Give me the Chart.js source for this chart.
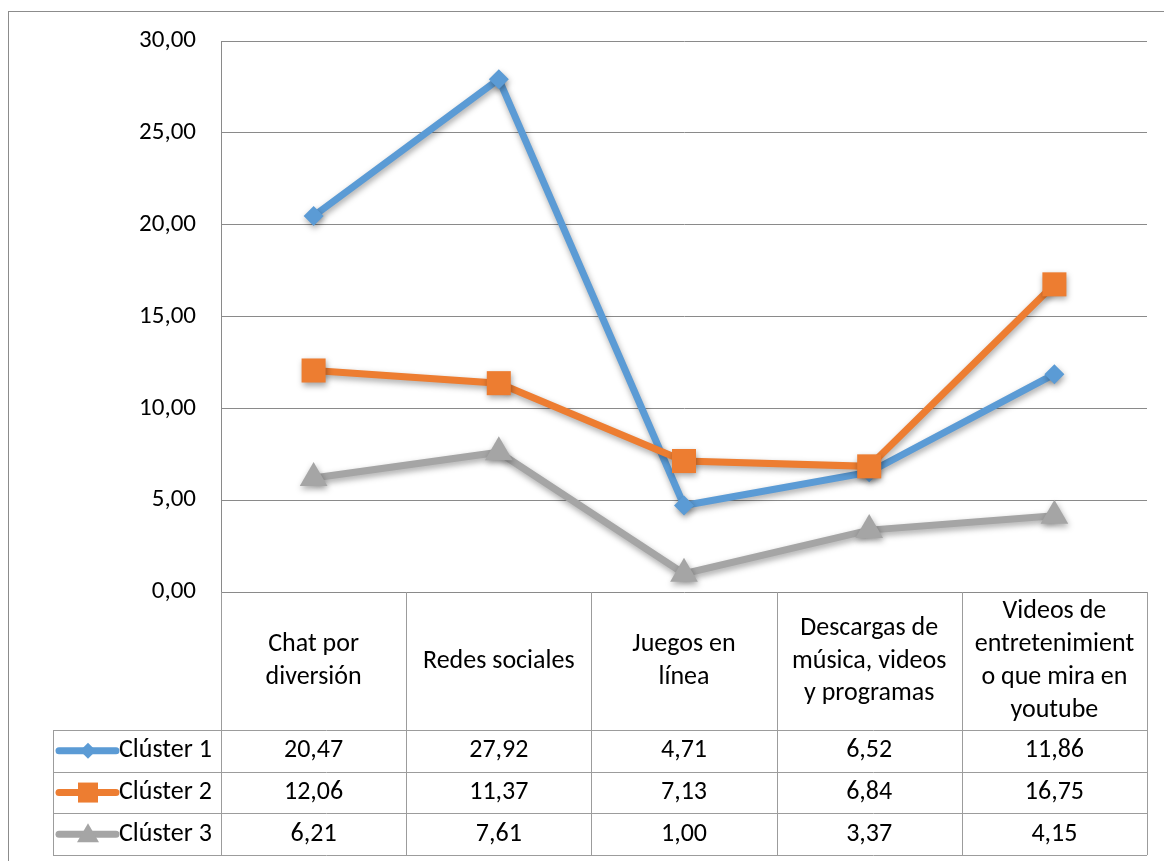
<!DOCTYPE html>
<html>
<head>
<meta charset="utf-8">
<script src="https://cdn.jsdelivr.net/npm/chart.js@4.4.1/dist/chart.umd.min.js"></script>
<style>
  html, body { margin: 0; padding: 0; background: #fff; }
  #wrap { position: relative; width: 1164px; height: 861px; }
  #frame { position: absolute; left: 8px; top: 11px; width: 1200px; height: 900px;
           border-top: 1px solid #8c8c8c; border-left: 1px solid #8c8c8c; box-sizing: border-box; }
  canvas { position: absolute; left: 0; top: 0; }
</style>
</head>
<body>
<div id="wrap">
  <div id="frame"></div>
  <canvas id="c" width="1164" height="861"></canvas>
</div>
<script>
const categories = [
  ["Chat por", "diversión"],
  ["Redes sociales"],
  ["Juegos en", "línea"],
  ["Descargas de", "música, videos", "y programas"],
  ["Videos de", "entretenimient", "o que mira en", "youtube"]
];
const seriesNames = ["Clúster 1", "Clúster 2", "Clúster 3"];
const cluster1 = [20.47, 27.92, 4.71, 6.52, 11.86];
const cluster2 = [12.06, 11.37, 7.13, 6.84, 16.75];
const cluster3 = [6.21, 7.61, 1.00, 3.37, 4.15];
const yTicks = [0, 5, 10, 15, 20, 25, 30];

const FONT = "Carlito, Calibri, Lato, 'Open Sans', sans-serif";
const FSIZE = 25;
const TSIZE = 26;
const GRID = "#8a8a8a";
const TABLE = "#9c9c9c";
const colors = ["#5B9BD5", "#ED7D31", "#A5A5A5"];
const pointStyles = ["rectRot", "rect", "triangle"];
const pointRadii = [10, 17, 16];
const fmt = v => v.toFixed(2).replace(".", ",");

const shadowPlugin = {
  id: "shadow",
  beforeDatasetDraw(chart) {
    const ctx = chart.ctx;
    ctx.save();
    ctx.shadowColor = "rgba(0,0,0,0.35)";
    ctx.shadowBlur = 6;
    ctx.shadowOffsetX = 1;
    ctx.shadowOffsetY = 3;
  },
  afterDatasetDraw(chart) { chart.ctx.restore(); }
};

const tablePlugin = {
  id: "dataTable",
  afterDraw(chart) {
    const ctx = chart.ctx;
    const area = chart.chartArea;
    const x = chart.scales.x;
    const n = categories.length;
    const step = (area.right - area.left) / n;
    const headerBottom = 730;
    const rowH = 41.7;
    const legendLeft = 53;
    const tableBottom = headerBottom + rowH * seriesNames.length;
    ctx.save();
    ctx.strokeStyle = TABLE;
    ctx.lineWidth = 1;
    for (let i = 0; i <= n; i++) {
      const px = Math.round(area.left + i * step) + 0.5;
      ctx.beginPath(); ctx.moveTo(px, area.bottom); ctx.lineTo(px, tableBottom); ctx.stroke();
    }
    ctx.beginPath(); ctx.moveTo(legendLeft + 0.5, headerBottom); ctx.lineTo(legendLeft + 0.5, tableBottom); ctx.stroke();
    for (let r = 0; r <= seriesNames.length; r++) {
      const py = Math.round(headerBottom + r * rowH) + 0.5;
      ctx.beginPath(); ctx.moveTo(legendLeft, py); ctx.lineTo(area.right, py); ctx.stroke();
    }
    ctx.fillStyle = "#000";
    ctx.font = TSIZE + "px " + FONT;
    ctx.textAlign = "center";
    ctx.textBaseline = "middle";
    const lineH = 32.8;
    const headerMid = (area.bottom + headerBottom) / 2;
    categories.forEach((lines, i) => {
      const cx = x.getPixelForValue(i);
      const start = headerMid - (lines.length - 1) * lineH / 2;
      lines.forEach((t, k) => ctx.fillText(t, cx, start + k * lineH));
    });
    const data = [cluster1, cluster2, cluster3];
    data.forEach((vals, r) => {
      const cy = headerBottom + r * rowH + rowH / 2;
      vals.forEach((v, i) => {
        ctx.fillStyle = "#000";
        ctx.textAlign = "center";
        ctx.fillText(fmt(v), x.getPixelForValue(i), cy);
      });
      ctx.strokeStyle = colors[r];
      ctx.lineWidth = 7;
      ctx.lineCap = "round";
      ctx.beginPath(); ctx.moveTo(59, cy); ctx.lineTo(116, cy); ctx.stroke();
      ctx.fillStyle = colors[r];
      const cxm = 88;
      ctx.beginPath();
      if (r === 0) {
        ctx.moveTo(cxm - 8, cy); ctx.lineTo(cxm, cy - 8); ctx.lineTo(cxm + 8, cy); ctx.lineTo(cxm, cy + 8);
      } else if (r === 1) {
        ctx.rect(cxm - 10, cy - 10, 20, 20);
      } else {
        ctx.moveTo(cxm, cy - 11); ctx.lineTo(cxm + 11, cy + 8); ctx.lineTo(cxm - 11, cy + 8);
      }
      ctx.closePath(); ctx.fill();
      ctx.fillStyle = "#000";
      ctx.textAlign = "left";
      ctx.fillText(seriesNames[r], 119, cy);
    });
    ctx.restore();
  }
};

const datasets = [cluster1, cluster2, cluster3].map((d, i) => ({
  label: seriesNames[i],
  data: d,
  borderColor: colors[i],
  backgroundColor: colors[i],
  borderWidth: 7,
  pointStyle: pointStyles[i],
  pointRadius: pointRadii[i],
  pointBorderWidth: 0,
  pointBackgroundColor: colors[i],
  tension: 0,
  order: 2 - i
}));

new Chart(document.getElementById("c"), {
  type: "line",
  data: { labels: categories.map(c => c.join(" ")), datasets },
  options: {
    responsive: false,
    animation: false,
    devicePixelRatio: 1,
    layout: { padding: { left: 0, top: 41, right: 17, bottom: 269 } },
    plugins: { legend: { display: false }, tooltip: { enabled: false } },
    scales: {
      x: { type: "category", offset: true, display: false },
      y: {
        min: 0, max: 30,
        afterFit(s) { s.width = 221; },
        afterBuildTicks(s) { s.ticks = yTicks.map(v => ({ value: v })); },
        ticks: { callback: v => fmt(v), color: "#000", font: { size: FSIZE, family: FONT }, padding: 25 },
        grid: { color: GRID, drawTicks: false, lineWidth: 1 },
        border: { display: true, color: GRID }
      }
    }
  },
  plugins: [shadowPlugin, tablePlugin]
});
</script>
</body>
</html>
